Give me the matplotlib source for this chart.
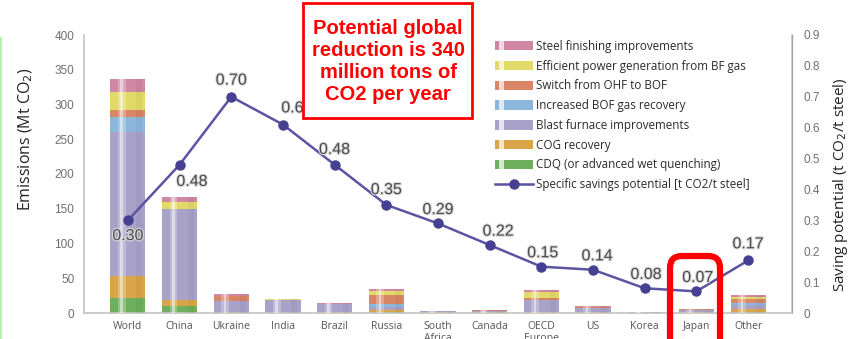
import matplotlib
matplotlib.use("Agg")
import matplotlib.pyplot as plt
import matplotlib.patheffects as pe
from matplotlib.patches import Rectangle, FancyBboxPatch
from matplotlib.lines import Line2D
from matplotlib.legend_handler import HandlerBase
from matplotlib.transforms import IdentityTransform
import numpy as np

# ---- data ---------------------------------------------------------------
countries = ["World", "China", "Ukraine", "India", "Brazil", "Russia",
             "South\nAfrica", "Canada", "OECD\nEurope", "US", "Korea",
             "Japan", "Other"]

# emission reduction potential by measure (Mt CO2), bottom to top
cdq        = [22, 10, 1, 1, 0.5, 1, 0.3, 0.3, 0.5, 0.3, 0.2, 0.3, 2]
cog        = [31, 9, 1, 1, 1, 3, 0.5, 0.5, 1, 0.5, 0.3, 0.5, 4]
blast_furn = [207, 131, 15, 16, 11, 5, 1.5, 2.5, 17, 7, 1, 4, 5]
bof_gas    = [22, 0, 0, 0, 0, 4, 0, 0, 0, 0, 0, 0, 4]
ohf_to_bof = [10, 0, 7, 1, 1, 13, 0.5, 1, 3.5, 1, 0.3, 1, 5]
power_gen  = [26, 10, 1, 0.5, 0, 5, 0, 0, 8, 0.3, 0, 0, 3]
finishing  = [19, 7, 2, 0.5, 0.5, 3, 0.2, 0.2, 2.4, 1, 0.2, 0.5, 3]

# specific savings potential (t CO2 / t steel)
specific = [0.30, 0.48, 0.70, 0.61, 0.48, 0.35, 0.29, 0.22, 0.15, 0.14,
            0.08, 0.07, 0.17]

measure_names = ["Steel finishing improvements",
                 "Efficient power generation from BF gas",
                 "Switch from OHF to BOF",
                 "Increased BOF gas recovery",
                 "Blast furnace improvements",
                 "COG recovery",
                 "CDQ (or advanced wet quenching)"]
line_name = "Specific savings potential [t CO2/t steel]"

left_ticks = [0, 50, 100, 150, 200, 250, 300, 350, 400]
right_ticks = [0, 0.1, 0.2, 0.3, 0.4, 0.5, 0.6, 0.7, 0.8, 0.9]
right_tick_labels = ["0", "0.1", "0.2", "0.3", "0.4", "0.5", "0.6",
                     "0.7", "0.8", "0.9"]

# ---- styling ------------------------------------------------------------
col_cdq = "#6DAF5C"
col_cog = "#D9A548"
col_bf = "#A8A2C9"
col_bof = "#8CB7DC"
col_ohf = "#D98667"
col_pow = "#E2DA68"
col_fin = "#D087A3"
line_col = "#5A54A3"
marker_col = "#454091"
axis_gray = "#C4C4C4"
tick_gray = "#707070"

W, H = 856, 339
fig = plt.figure(figsize=(W / 100, H / 100), dpi=100)
ax = fig.add_axes([84 / W, 1 - 313 / H, (792 - 84) / W, (313 - 35) / H])
ax2 = ax.twinx()

x = np.arange(len(countries))
bw = 0.68

stack = [(cdq, col_cdq), (cog, col_cog), (blast_furn, col_bf),
         (bof_gas, col_bof), (ohf_to_bof, col_ohf), (power_gen, col_pow),
         (finishing, col_fin)]
bottom = np.zeros(len(countries))
for vals, c in stack:
    vals = np.array(vals, dtype=float)
    ax.bar(x, vals, bw, bottom=bottom, color=c, edgecolor="none", zorder=2)
    bottom += vals
totals = bottom

# glossy highlight stripe on each column
for off, w, a in [(-0.17, 0.05, 0.25), (-0.12, 0.05, 0.6), (-0.07, 0.05, 0.25)]:
    ax.bar(x + off, totals, w, color="white", alpha=a, edgecolor="none",
           zorder=3)
ax.bar(x + 0.22, totals, 0.12, color="black", alpha=0.04, edgecolor="none",
       zorder=3)

ax.set_xlim(-0.85, len(countries) - 0.15)
ax.set_ylim(0, 400)
ax.set_yticks(left_ticks)
ax.set_yticklabels([str(t) for t in left_ticks], family="Liberation Sans",
                   fontsize=8.5, color=tick_gray)
ax.set_xticks(x)
ax.set_xticklabels(countries, family="Open Sans", fontsize=7.5,
                   color="#555555", linespacing=1.1)
ax.tick_params(axis="both", length=0)
ax.tick_params(axis="x", pad=6)
ax.tick_params(axis="y", pad=7)

for s in ["top"]:
    ax.spines[s].set_visible(False)
    ax2.spines[s].set_visible(False)
for s in ["left", "bottom"]:
    ax.spines[s].set_color(axis_gray)
    ax.spines[s].set_linewidth(1.2)
ax2.spines["right"].set_color(axis_gray)
ax2.spines["right"].set_linewidth(1.2)
ax2.spines["left"].set_visible(False)
ax2.spines["bottom"].set_visible(False)

ax2.set_ylim(0, 0.9)
ax2.set_yticks(right_ticks)
ax2.set_yticklabels(right_tick_labels, family="Liberation Sans",
                    fontsize=8.5, color=tick_gray)
ax2.tick_params(axis="y", length=0, pad=8)

ax2.plot(x, specific, color=line_col, lw=1.8, marker="o", markersize=6.5,
         markerfacecolor=marker_col, markeredgecolor=marker_col, zorder=5)

# value labels for the specific savings line (offsets in points)
label_offsets = [(0, -11), (9, -12), (0, 12), (10, 12), (0, 11), (0, 11),
                 (0, 10), (6, 10), (1, 10), (3, 10), (1, 10), (1, 10),
                 (0, 12)]
glow = [pe.withStroke(linewidth=1.6, foreground="#DADADA")]
for xi, v, (dx, dy) in zip(x, specific, label_offsets):
    ax2.annotate(f"{v:.2f}", (xi, v), xytext=(dx, dy),
                 textcoords="offset points", ha="center", va="center",
                 family="Liberation Sans", fontsize=11.5, color="#4A4A4A",
                 path_effects=glow, zorder=6)

# axis titles
fig.text(26 / W, 1 - 139 / H, "Emissions (Mt CO$_2$)", rotation=90,
         ha="center", va="center", family="Open Sans", fontsize=11.5,
         color="#222222")
fig.text(840 / W, 1 - 185 / H, "Saving potential (t CO$_2$/t steel)",
         rotation=90, ha="center", va="center", family="Open Sans",
         fontsize=11, color="#222222")


# legend with glossy swatches
class GlossyPatch(HandlerBase):
    def create_artists(self, legend, orig_handle, xdescent, ydescent,
                       width, height, fontsize, trans):
        c = orig_handle.get_facecolor()
        base = Rectangle((-xdescent, -ydescent), width, height,
                         facecolor=c, edgecolor="none", transform=trans)
        gap = Rectangle((-xdescent + 0.12 * width, -ydescent),
                        0.12 * width, height, facecolor="white",
                        alpha=0.7, edgecolor="none", transform=trans)
        return [base, gap]


handles = [Rectangle((0, 0), 1, 1, facecolor=c) for c in
           [col_fin, col_pow, col_ohf, col_bof, col_bf, col_cog, col_cdq]]
line_handle = Line2D([], [], color=line_col, lw=1.8, marker="o",
                     markersize=6.5, markerfacecolor=marker_col,
                     markeredgecolor=marker_col)
handler_map = {h: GlossyPatch() for h in handles}
leg = fig.legend(handles + [line_handle], measure_names + [line_name],
                 loc="upper left", bbox_to_anchor=(489 / W, 1 - 34 / H),
                 frameon=False, prop={"family": "Open Sans", "size": 8.4},
                 handlelength=3.3, handleheight=0.85, handletextpad=0.25,
                 labelspacing=0.58, borderpad=0, handler_map=handler_map)
for t in leg.get_texts():
    t.set_color("#2A2A2A")

# callout box with the global total
box = Rectangle((303 / W, 1 - 118 / H), 169 / W, 115 / H,
                transform=fig.transFigure, facecolor="white",
                edgecolor="#FF0000", linewidth=2, zorder=10)
fig.add_artist(box)
fig.text(388 / W, 1 - 61 / H,
         "Potential global\nreduction is 340\nmillion tons of\nCO2 per year",
         ha="center", va="center", family="Liberation Sans",
         fontweight="bold", fontsize=14.5, color="#FF0000",
         linespacing=1.2, zorder=11)

# highlight frame around Japan
frame = FancyBboxPatch((670, -30), 50, 113,
                       boxstyle="round,pad=0,rounding_size=12",
                       transform=IdentityTransform(), facecolor="none",
                       edgecolor="#FF0000", linewidth=4.5, zorder=12)
fig.add_artist(frame)

# slide edge line
fig.add_artist(Line2D([1 / W, 1 / W], [0, 1 - 38 / H],
                      transform=fig.transFigure, color="#B8F0B0", lw=1.5))

fig.savefig("out.png", dpi=100)
